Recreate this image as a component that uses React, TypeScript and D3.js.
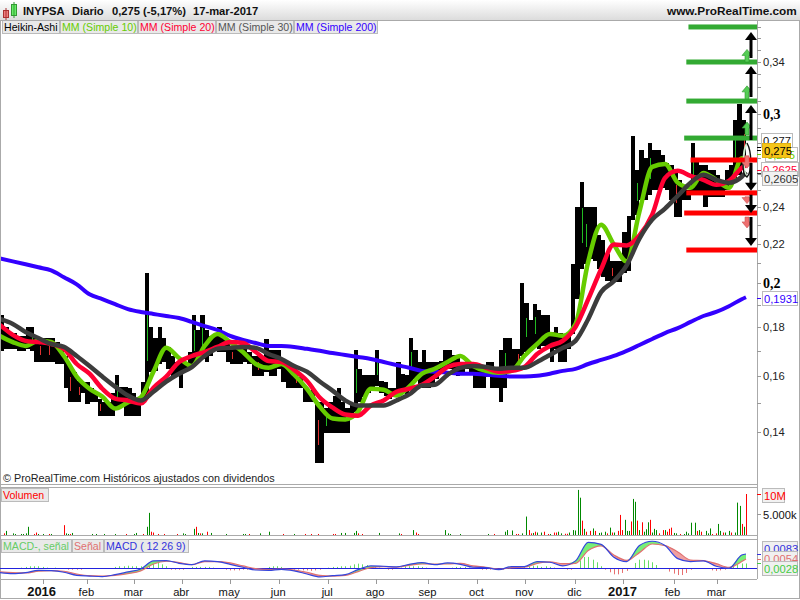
import React from "react";
import * as d3 from "d3";

// two trading days per candle bin, starting at day 0
const candleHighs = [
  .1855,.1803,.1777,.1777,.1761,.1761,.1803,.1803,.1757,.1752,
  .1752,.1752,.1752,.1736,.1720,.1680,.1640,.1618,.1583,.1580,
  .1580,.1554,.1539,.1517,.1506,.1506,.1539,.1606,.1561,.1561,
  .1554,.1539,.1517,.1580,.2050,.1803,.1752,.1803,.1752,.1716,
  .1680,.1656,.1668,.1656,.1696,.1855,.1790,.1855,.1790,.1761,
  .1761,.1803,.1761,.1748,.1720,.1708,.1700,.1708,.1696,.1680,
  .1680,.1680,.1748,.1704,.1704,.1704,.1656,.1640,.1629,.1618,
  .1598,.1554,.1546,.1554,.1506,.1506,.1482,.1506,.1528,.1557,
  .1506,.1482,.1499,.1704,.1629,.1606,.1606,.1606,.1704,.1583,
  .1580,.1554,.1554,.1656,.1610,.1606,.1752,.1704,.1656,.1704,
  .1656,.1656,.1656,.1660,.1704,.1704,.1684,.1680,.1656,.1656,
  .1656,.1640,.1629,.1629,.1656,.1656,.1629,.1704,.1752,.1752,
  .1708,.1708,.2002,.1907,.1833,.1903,.1877,.1855,.1855,.1779,
  .1803,.1777,.1761,.1777,.2093,.2403,.2551,.2403,.2403,.2403,
  .2248,.2221,.2143,.2108,.2108,.2108,.2259,.2352,.2850,.2625,
  .2750,.2700,.2800,.2750,.2750,.2719,.2668,.2656,.2613,.2563,
  .2533,.2503,.2800,.2688,.2656,.2656,.2625,.2625,.2594,.2563,
  .2625,.2656,.2958,.3074,.2958,
];
const candleLows = [
  .1700,.1708,.1708,.1708,.1700,.1700,.1708,.1700,.1656,.1656,
  .1656,.1656,.1656,.1648,.1648,.1554,.1506,.1506,.1506,.1539,
  .1499,.1506,.1503,.1454,.1454,.1454,.1454,.1482,.1492,.1454,
  .1454,.1454,.1454,.1517,.1517,.1618,.1622,.1648,.1656,.1629,
  .1602,.1602,.1554,.1629,.1640,.1640,.1668,.1668,.1656,.1680,
  .1700,.1696,.1696,.1656,.1648,.1648,.1648,.1656,.1648,.1602,
  .1602,.1602,.1618,.1602,.1602,.1629,.1580,.1554,.1554,.1554,
  .1554,.1506,.1506,.1506,.1300,.1300,.1397,.1397,.1397,.1397,
  .1397,.1397,.1465,.1469,.1506,.1524,.1539,.1546,.1565,.1539,
  .1528,.1517,.1524,.1528,.1539,.1535,.1572,.1591,.1572,.1557,
  .1557,.1565,.1591,.1618,.1629,.1629,.1618,.1602,.1618,.1629,
  .1618,.1557,.1557,.1557,.1598,.1557,.1557,.1506,.1554,.1618,
  .1629,.1640,.1680,.1696,.1700,.1716,.1708,.1720,.1716,.1656,
  .1708,.1656,.1656,.1708,.1771,.1925,.2068,.2093,.2118,.2108,
  .2068,.2029,.2010,.2005,.2005,.2005,.2048,.2058,.2330,.2358,
  .2444,.2444,.2473,.2503,.2503,.2515,.2503,.2444,.2347,.2347,
  .2444,.2444,.2473,.2473,.2473,.2403,.2461,.2461,.2461,.2461,
  .2503,.2533,.2575,.2594,.2656,
];
// bins whose thin body shows up green / red inside the black candle
const greenBodyBins = [7, 27, 34, 45, 47, 76, 83, 88, 96, 118, 123, 125, 136, 137, 149, 152, 162, 172];
const redBodyBins = [9, 11, 16, 18, 23, 54, 60, 69, 74, 121, 143, 158, 174];

// moving averages, one reading every 6 trading days plus the last day
const maDays = [
  0,6,12,18,24,30,36,42,48,54,60,66,72,78,84,90,96,102,108,114,
  120,126,132,138,144,150,156,162,168,174,180,186,192,198,204,210,216,222,228,234,
  240,246,252,258,264,270,276,282,288,294,300,306,312,318,324,330,336,342,348,350,
];
const ma10 = [
  .1763,.1737,.1721,.1742,.1737,.1680,.1599,.1553,.1524,.1481,.1503,.1521,.1618,.1713,.1672,.1640,.1721,.1771,.1737,.1696,.1648,.1633,
  .1648,.1606,.1553,.1488,.1446,.1443,.1470,.1553,.1549,.1528,.1561,.1610,.1629,.1656,.1680,.1640,.1621,.1614,.1621,.1680,.1729,.1771,.1763,
  .1814,.2108,.2302,.2195,.2108,.2375,.2644,.2662,.2545,.2515,.2606,.2563,.2515,.2700,.2688,
];
const ma20 = [
  .1810,.1767,.1742,.1737,.1729,.1709,.1648,.1610,.1553,.1517,.1510,.1499,.1557,.1599,.1656,.1680,.1696,.1717,.1737,.1733,.1696,.1660,
  .1656,.1625,.1583,.1521,.1485,.1460,.1456,.1492,.1510,.1542,.1553,.1568,.1599,.1636,.1648,.1648,.1633,.1618,.1621,.1636,.1688,.1721,.1742,
  .1801,.1925,.2068,.2195,.2190,.2243,.2358,.2575,.2619,.2588,.2563,.2533,.2557,.2637,.2656,
];
const ma30 = [
  .1836,.1814,.1779,.1754,.1729,.1717,.1680,.1640,.1599,.1561,.1528,.1510,.1542,.1580,.1610,.1636,.1680,.1709,.1713,.1717,.1713,.1688,
  .1668,.1640,.1618,.1580,.1546,.1510,.1492,.1492,.1492,.1510,.1532,.1565,.1568,.1606,.1633,.1640,.1636,.1629,.1633,.1633,.1656,.1684,.1713,
  .1742,.1836,.1958,.2010,.2088,.2226,.2330,.2392,.2467,.2545,.2594,.2563,.2545,.2582,.2613,
];
const ma200 = [
  .2123,.2108,.2093,.2078,.2063,.2029,.1995,.1948,.1925,.1902,.1880,.1867,.1858,.1849,.1840,.1823,.1805,.1788,.1763,.1746,.1733,.1721,
  .1721,.1717,.1709,.1701,.1692,.1684,.1676,.1668,.1656,.1644,.1633,.1621,.1618,.1614,.1610,.1610,.1606,.1602,.1599,.1599,.1602,.1610,.1621,
  .1629,.1648,.1664,.1680,.1701,.1725,.1750,.1775,.1796,.1823,.1849,.1867,.1893,.1925,.1934,
];

// volume in millions
const volUpDays = [
  3,6,7,10,11,12,13,18,20,24,31,32,34,43,45,49,54,63,64,69,70,86,87,91,93,95,99,106,114,115,122,126,138,160,162,166,167,178,187,
  194,209,210,211,216,229,237,238,240,245,247,250,252,254,258,262,263,267,269,270,271,272,274,278,281,282,284,286,288,293,294,295,
  297,298,300,302,303,304,306,307,308,312,316,317,321,322,323,324,326,328,331,332,333,337,338,340,342,345,346,347,349,
];
const volUpValues = [
  1,.4,.25,.25,.25,.4,2,.25,.25,.25,.4,.25,.5,.25,.25,.25,.25,.25,.5,2,5.4,.4,.25,1.5,.5,.4,.5,.25,.25,.25,.4,.8,.25,.5,.5,.5,1,.5,.4,
  1.2,1.2,.4,.25,.25,.25,.8,1.2,1.1,.4,4.5,.5,.6,.6,.25,.8,.4,.6,1.2,1.1,11,9.1,1.5,1.6,.5,.6,.8,1.8,.6,3.7,1,1,
  8.8,8.1,1.2,.8,1.4,3.1,.6,1.5,1.2,1.2,.5,.4,.25,.8,.4,3,3,1.2,1,.4,1.6,2.7,1,.6,1,.6,7.9,7.1,2,
];
const volDownDays = [
  2,16,17,23,30,33,59,67,71,72,74,77,83,92,94,97,117,133,143,146,149,156,157,168,170,
  188,195,196,232,242,243,248,249,251,255,257,260,261,265,266,273,275,277,279,285,287,290,291,292,296,299,301,305,309,311,313,314,315,319,327,329,334,336,339,343,348,350,
];
const volDownValues = [
  .4,.25,.6,.25,2.4,.25,.25,.25,.8,.6,.25,.25,.25,2,.4,.8,.25,.25,.25,.25,.25,.25,.25,.4,.25,
  .25,.6,.25,.25,.25,.25,1.2,.4,.8,.8,.25,.6,.6,.3,.3,3.5,.8,1,1,.4,.6,1,4.9,1.2,3.3,3.5,3.1,3.7,.4,1.2,.8,1.5,1.8,.25,1,.8,.25,.4,.6,.6,2.7,10,
];

// MACD readings on the same days as the moving averages
const macdLine = [
  -.0025,-.0031,-.0025,-.0012,-.0014,-.0023,-.0041,-.0045,-.0048,-.0037,-.0021,-.0004,.0043,.0045,.0029,.0021,.0043,.0039,.0023,.0006,-.0010,-.0012,-.0006,-.0015,-.0033,-.0050,-.0043,-.0037,-.0008,.0014,.0012,.0008,
  .0023,.0033,.0021,.0031,.0023,.0006,.0004,-.0008,.0010,.0010,.0039,.0035,.0014,.0043,.0151,.0139,.0064,.0039,.0132,.0157,.0132,.0056,.0039,.0043,.0012,0,.0077,.0083,
];
const signalLine = [
  -.0021,-.0025,-.0027,-.0017,-.0014,-.0017,-.0033,-.0043,-.0045,-.0041,-.0031,-.0015,.0025,.0041,.0033,.0021,.0039,.0039,.0031,.0014,-.0002,-.0008,-.0004,-.0010,-.0023,-.0041,-.0045,-.0041,-.0019,.0004,.0010,.0006,
  .0017,.0025,.0025,.0025,.0029,.0014,.0006,-.0006,.0004,.0006,.0029,.0037,.0027,.0029,.0103,.0130,.0077,.0046,.0091,.0141,.0132,.0095,.0048,.0045,.0027,.0006,.0039,.0054,
];
// histogram in ten-thousandths, one bar every 2 trading days
const macdHist = [
  0,0,0,0,0,4,8,12,12,12,8,4,0,4,0,-4,-8,-8,-8,-8,-4,-4,-4,0,-4,-4,-4,
  8,12,12,15,12,12,12,15,23,31,31,23,12,-8,-8,-8,-8,-4,8,8,8,8,8,4,
  -4,-4,-8,-12,-12,-12,-8,-8,-8,-4,0,0,8,12,12,8,-4,-8,-8,-8,-12,-12,-15,-12,-8,-4,
  4,8,8,12,12,15,23,27,23,19,12,8,4,-4,-8,-8,-4,4,12,12,12,12,8,4,-4,-4,-4,-4,0,
  4,8,8,8,4,-4,-4,-8,-8,-8,-4,-8,-8,4,8,12,8,8,12,15,15,8,12,8,4,-4,-4,-8,-8,-4,
  46,66,66,50,35,12,-8,-23,-35,-35,-27,-15,-4,31,50,50,46,35,19,0,-4,-19,-31,-39,-39,-27,-8,
  0,0,-4,-4,-12,-15,-12,-8,4,12,23,28,28,
];

// price levels and arrows on the right
const greenLevels = [.3698, .34, .3096, .2833];
const greenLevelStart = [323, 322, 322, 321];
const redLevels = [.2688, .2484, .2367, .2166];
const redLevelStart = [324, 322, 321, 322];
const bigArrows = [[.3432, .3654], [.3126, .3368], [.2820, .3067], [.2668, .2497], [.2473, .2367], [.2344, .2187]];
const smallUpArrows = [[.34, .3504], [.3112, .3211], [.2854, .2944]];
const smallDownArrows = [[.2715, .2636], [.2461, .2421], [.2344, .2284]];

const priceTicks = [.14,.15,.16,.17,.18,.19,.2,.21,.22,.23,.24,.25,.26,.27,.28,.29,.3,.31,.32,.33,.34,.35,.36,.37];
const priceLabels = [.14, .16, .18, .2, .22, .24, .3, .34];
const boldPrices = [.2, .3];

const monthDays = [20, 41, 63, 85.5, 108, 131, 154, 176.5, 201, 224, 246.5, 270, 292.5, 316, 336.6];
const monthLabels = ["2016", "feb", "mar", "abr", "may", "jun", "jul", "ago", "sep", "oct", "nov", "dic", "2017", "feb", "mar"];

const legendItems = [
  { text: "Heikin-Ashi", x0: 2, x1: 59, color: "#000" },
  { text: "MM (Simple 10)", x0: 60, x1: 137, color: "#66cc00" },
  { text: "MM (Simple 20)", x0: 138, x1: 215, color: "#ff0033" },
  { text: "MM (Simple 30)", x0: 216, x1: 293, color: "#555" },
  { text: "MM (Simple 200)", x0: 294, x1: 377, color: "#3300ff" },
];

const FONT = "'Liberation Sans', Arial, sans-serif";
const AXIS_X = 757;
const GRID = "#aaa";
const CHIP = "#e9e9e9";

const x = d3.scaleLinear().domain([0, 350]).range([0, 746]);
const y = d3.scaleLog().domain([0.14, 0.34]).range([432, 62]);
const yVol = d3.scaleLinear().domain([0, 10]).range([535, 494]);
const yMacd = d3.scaleLinear().domain([0, 0.0083]).range([568.3, 554]);

const priceLine = (values: number[]) =>
  d3
    .line<number>()
    .x((_, i) => x(maDays[i]))
    .y((d) => y(d))
    .curve(d3.curveMonotoneX)(values) as string;

const macdPath = (values: number[]) =>
  d3
    .line<number>()
    .x((_, i) => x(maDays[i]))
    .y((d) => yMacd(d))
    .curve(d3.curveMonotoneX)(values) as string;

const macdArea = (pick: (m: number, s: number) => number) =>
  d3
    .area<number>()
    .x((_, i) => x(maDays[i]))
    .y0((_, i) => yMacd(signalLine[i]))
    .y1((_, i) => yMacd(pick(macdLine[i], signalLine[i])))
    .curve(d3.curveMonotoneX)(macdLine) as string;

const fmt = (v: number) => String(v).replace(".", ",");

function Chip({ x0, x1, top, text, color }: any) {
  return (
    <g>
      <rect x={x0 + 0.5} y={top + 0.5} width={x1 - x0} height={13} fill={CHIP} stroke="#bbb" />
      <text x={x0 + 2} y={top + 11} fontSize={10.6} fill={color}>{text}</text>
    </g>
  );
}

function ValueBox({ cx0, cx1, cy, text, color, fill = "#f2f2f2", stroke = "#bbb" }: any) {
  return (
    <g>
      <rect x={cx0 + 0.5} y={cy - 6.5} width={cx1 - cx0} height={14} fill={fill} stroke={stroke} />
      <text x={cx0 + 2} y={cy + 4.5} fontSize={11.2} fill={color}>{text}</text>
    </g>
  );
}

function Arrow({ from, to, ax, width, head, spread, color, stroke }: any) {
  const y0 = y(from);
  const y1 = y(to);
  const dir = y1 < y0 ? 1 : -1;
  const neck = y1 + dir * head;
  const d = `M${ax - width},${y0}L${ax - width},${neck}L${ax - spread},${neck}L${ax},${y1}L${ax + spread},${neck}L${ax + width},${neck}L${ax + width},${y0}Z`;
  return <path d={d} fill={color} stroke={stroke} strokeWidth={stroke ? 0.6 : 0} />;
}

export default function App() {
  const barEdge = (d: number) => Math.round(x(d));
  return (
    <svg
      width={800}
      height={600}
      style={{ position: "absolute", left: 0, top: 0, background: "#fff" }}
      fontFamily={FONT}
    >
      <defs>
        <linearGradient id="head" x1="0" x2="0" y1="0" y2="1">
          <stop offset="0" stopColor="#ffffff" />
          <stop offset="1" stopColor="#dcdcdc" />
        </linearGradient>
      </defs>

      {/* header */}
      <rect x={0} y={0} width={800} height={20} fill="url(#head)" />
      <line x1={0} x2={800} y1={20.5} y2={20.5} stroke={GRID} />
      <rect x={3.5} y={10.5} width={5} height={7} fill="#f08080" stroke="#a33" />
      <line x1={6} x2={6} y1={8} y2={20} stroke="#a33" />
      <rect x={11.5} y={4.5} width={5} height={11} fill="#66ee66" stroke="#393" />
      <line x1={14} x2={14} y1={2} y2={18} stroke="#393" />
      <g fontSize={11.2} fontWeight="bold" fill="#111">
        <text x={23} y={15}>INYPSA</text>
        <text x={72} y={15}>Diario</text>
        <text x={112} y={15}>0,275 (-5,17%)</text>
        <text x={193} y={15}>17-mar-2017</text>
        <text x={667} y={15} fontSize={11.8}>www.ProRealTime.com</text>
      </g>

      {/* candles */}
      <g shapeRendering="crispEdges">
        {candleHighs.map((h, i) => (
          <rect key={i} x={barEdge(2 * i)} y={y(h)} width={barEdge(2 * i + 2) - barEdge(2 * i)} height={y(candleLows[i]) - y(h)} fill="#000" />
        ))}
        {greenBodyBins.map((i) => (
          <rect key={i} x={barEdge(2 * i + 1)} y={y(candleHighs[i]) * 0.7 + y(candleLows[i]) * 0.3} width={1}
            height={(y(candleLows[i]) - y(candleHighs[i])) * 0.4} fill="#22bb22" />
        ))}
        {redBodyBins.map((i) => (
          <rect key={i} x={barEdge(2 * i + 1)} y={y(candleHighs[i]) * 0.7 + y(candleLows[i]) * 0.3} width={1}
            height={(y(candleLows[i]) - y(candleHighs[i])) * 0.4} fill="#e03030" />
        ))}
      </g>

      {/* moving averages */}
      <g fill="none" strokeLinejoin="round">
        <path d={priceLine(ma200)} stroke="#3300ff" strokeWidth={4} />
        <path d={priceLine(ma10)} stroke="#66cc00" strokeWidth={4.5} />
        <path d={priceLine(ma20)} stroke="#ff0033" strokeWidth={4.5} />
        <path d={priceLine(ma30)} stroke="#3c3c3c" strokeWidth={4.5} />
      </g>

      {/* ring drawn round the last candles */}
      <path d="M747,143 C742,152 743,172 747,177" fill="none" stroke="#cfeecf" strokeWidth={2} />
      <path d="M747,143 C752,152 752,172 747,177 C744,176 743,170 743,164" fill="none" stroke="#111" strokeWidth={1.4} />

      {/* levels and arrows */}
      {greenLevels.map((p, i) => (
        <rect key={p} x={x(greenLevelStart[i])} y={y(p) - 2.5} width={AXIS_X - x(greenLevelStart[i])} height={5} fill="#33aa33" />
      ))}
      {redLevels.map((p, i) => (
        <rect key={p} x={x(redLevelStart[i])} y={y(p) - 2.5} width={AXIS_X - x(redLevelStart[i])} height={5} fill="#ff0000" />
      ))}
      {smallUpArrows.map(([a, b]) => (
        <Arrow key={a} from={a} to={b} ax={747} width={2} head={6} spread={5} color="#55cc55" stroke="#2a992a" />
      ))}
      {smallDownArrows.map(([a, b]) => (
        <Arrow key={a} from={a} to={b} ax={747} width={2} head={6} spread={5} color="#ee7070" stroke="#cc5555" />
      ))}
      {bigArrows.map(([a, b]) => (
        <Arrow key={a} from={a} to={b} ax={751} width={1.5} head={8} spread={6} color="#000" />
      ))}

      {/* price axis */}
      <line x1={AXIS_X + 0.5} x2={AXIS_X + 0.5} y1={20} y2={579} stroke={GRID} />
      {priceTicks.map((p) => (
        <line key={p} x1={AXIS_X} x2={AXIS_X + 4} y1={Math.round(y(p)) + 0.5} y2={Math.round(y(p)) + 0.5} stroke="#999" />
      ))}
      {priceLabels.map((p) =>
        boldPrices.includes(p) ? (
          <text key={p} x={763} y={y(p) + 5} fontSize={14} fontWeight="bold" fontFamily="'Liberation Serif', serif">{fmt(p)}</text>
        ) : (
          <text key={p} x={763} y={y(p) + 4} fontSize={11.2} fill="#222">{fmt(p)}</text>
        )
      )}
      <ValueBox cx0={761} cx1={792} cy={140} text="0,277" color="#111" fill="#fff" />
      <ValueBox cx0={765} cx1={797} cy={154} text="0,275" color="#66cc00" fill="#fff" />
      <ValueBox cx0={762} cx1={790} cy={150} text="0,275" color="#000" fill="#f5c518" stroke="#e0b010" />
      <ValueBox cx0={761} cx1={798} cy={169} text="0,2625" color="#ff0033" fill="#fff" />
      <ValueBox cx0={762} cx1={797} cy={178} text="0,2605" color="#333" />
      <ValueBox cx0={762} cx1={797} cy={298} text="0,1931" color="#3300ff" fill="#fff" />
      <g strokeWidth={1}>
        <line x1={757} x2={761} y1={147.5} y2={147.5} stroke="#000" />
        <line x1={757} x2={761} y1={150.5} y2={150.5} stroke="#000" />
        <line x1={757} x2={761} y1={154.5} y2={154.5} stroke="#66cc00" />
        <line x1={757} x2={761} y1={170.5} y2={170.5} stroke="#ff0033" />
        <line x1={757} x2={761} y1={173.5} y2={173.5} stroke="#333" />
        <line x1={757} x2={761} y1={298.5} y2={298.5} stroke="#3300ff" />
      </g>

      {/* legend over the main pane */}
      {legendItems.map((d) => (
        <Chip key={d.text} x0={d.x0} x1={d.x1} top={20} text={d.text} color={d.color} />
      ))}
      <text x={3} y={482} fontSize={10.8} fill="#222">© ProRealTime.com  Históricos ajustados con dividendos</text>

      {/* panes */}
      <rect x={0.5} y={20.5} width={799} height={578} fill="none" stroke={GRID} />
      <g stroke={GRID}>
        <line x1={0} x2={AXIS_X} y1={484.5} y2={484.5} />
        <line x1={0} x2={AXIS_X} y1={487.5} y2={487.5} />
        <line x1={0} x2={AXIS_X} y1={535.5} y2={535.5} />
        <line x1={0} x2={AXIS_X} y1={539.5} y2={539.5} />
        <line x1={0} x2={AXIS_X} y1={579.5} y2={579.5} />
      </g>

      {/* volume */}
      <Chip x0={1} x1={48} top={488} text="Volumen" color="#ff0000" />
      {volUpDays.map((d, i) => (
        <rect key={d} x={Math.round(x(d))} y={yVol(volUpValues[i])} width={1} height={yVol(0) - yVol(volUpValues[i])} fill="#008800" />
      ))}
      {volDownDays.map((d, i) => (
        <rect key={d} x={Math.round(x(d))} y={yVol(volDownValues[i])} width={1} height={yVol(0) - yVol(volDownValues[i])} fill="#ff0000" />
      ))}
      <line x1={757} x2={761} y1={494.5} y2={494.5} stroke="#ff0000" />
      <line x1={757} x2={761} y1={514.5} y2={514.5} stroke="#999" />
      <ValueBox cx0={762} cx1={784} cy={495} text="10M" color="#ff0000" />
      <text x={763} y={519} fontSize={11.2} fill="#111">5.000k</text>

      {/* MACD */}
      <Chip x0={1} x1={71} top={539} text="MACD-, señal" color="#66cc66" />
      <Chip x0={72} x1={103} top={539} text="Señal" color="#e07070" />
      <Chip x0={104} x1={188} top={539} text="MACD ( 12 26 9)" color="#3333dd" />
      {macdHist.map((v, i) => (
        <rect
          key={i}
          x={Math.round(x(2 * i))}
          y={Math.min(yMacd(v / 1e4), yMacd(0))}
          width={1}
          height={Math.abs(yMacd(v / 1e4) - yMacd(0))}
          fill={v > 0 ? "#66dd66" : "#e87070"}
        />
      ))}
      <path d={macdArea(Math.max)} fill="#77ee77" />
      <path d={macdArea(Math.min)} fill="#f0a0a0" />
      <line x1={0} x2={AXIS_X} y1={568.5} y2={568.5} stroke="#2222dd" />
      <path d={macdPath(signalLine)} fill="none" stroke="#e07070" strokeWidth={1.2} />
      <path d={macdPath(macdLine)} fill="none" stroke="#3344dd" strokeWidth={1.2} />
      <ValueBox cx0={762} cx1={797} cy={548} text="0,0083" color="#3333dd" fill="#f0f0f0" />
      <ValueBox cx0={762} cx1={797} cy={558} text="0,0054" color="#e07070" fill="#f0f0f0" />
      <ValueBox cx0={762} cx1={797} cy={568} text="0,0028" color="#44cc44" fill="#f0f0f0" />
      <line x1={757} x2={761} y1={554.5} y2={554.5} stroke="#3333dd" />
      <line x1={757} x2={761} y1={559.5} y2={559.5} stroke="#e07070" />
      <line x1={757} x2={761} y1={563.5} y2={563.5} stroke="#44cc44" />

      {/* time axis */}
      {monthDays.map((d, i) => {
        const major = monthLabels[i].length === 4;
        return (
          <g key={i}>
            <line x1={Math.round(x(d)) + 0.5} x2={Math.round(x(d)) + 0.5} y1={579} y2={584} stroke="#999" />
            <text
              x={x(d) - 1}
              y={596}
              textAnchor="middle"
              fontSize={major ? 13 : 11.2}
              fontWeight={major ? "bold" : "normal"}
              fill="#111"
            >
              {monthLabels[i]}
            </text>
          </g>
        );
      })}
    </svg>
  );
}
